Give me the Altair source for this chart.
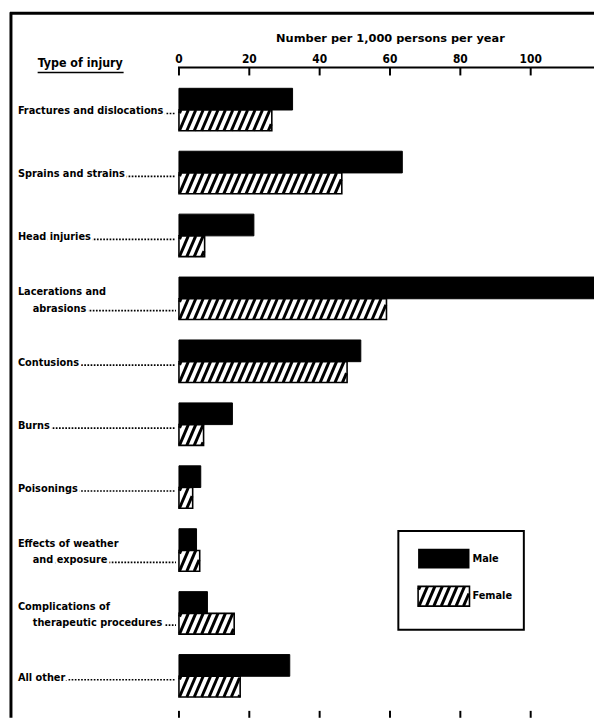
import altair as alt
import pandas as pd
import numpy as np

# ---------------- data ----------------
label_line1 = ["Fractures and dislocations", "Sprains and strains", "Head injuries",
               "Lacerations and", "Contusions", "Burns", "Poisonings",
               "Effects of weather", "Complications of", "All other"]
label_line2 = ["", "", "", "abrasions", "", "", "", "and exposure",
               "therapeutic procedures", ""]
male = [32.3, 63.5, 21.3, 118.0, 51.7, 15.2, 6.2, 5.0, 8.1, 31.5]
female = [26.4, 46.3, 7.3, 59.0, 47.8, 7.0, 3.9, 5.9, 15.7, 17.4]
tick_values = [0, 20, 40, 60, 80, 100]
axis_title = "Number per 1,000 persons per year"
row_title = "Type of injury"
legend_labels = ["Male", "Female"]

# ---------------- layout ----------------
W, H = 420, 650
XMAX = 118.0
YDOM = [-0.675, 9.534]
PY = H / (YDOM[1] - YDOM[0])
SX = W / XMAX
FONT = "DejaVu Sans Condensed"
FONT_WIDE = "DejaVu Sans"
MH, FH = 0.345, 0.33

def invx(p):
    return p / SX

def invy(p):
    return YDOM[0] + p / PY

xs = alt.Scale(domain=[0, XMAX], nice=False, zero=False)
ys = alt.Scale(domain=YDOM, nice=False, zero=False, reverse=True)

def X(f):
    return alt.X(f, type="quantitative", scale=xs, axis=None)

def Y(f):
    return alt.Y(f, type="quantitative", scale=ys, axis=None)

n = len(male)
bars_m = pd.DataFrame({"x0": 0.0, "x1": male,
                       "y0": [k - MH for k in range(n)], "y1": list(range(n))})
bars_f = pd.DataFrame({"x0": 0.0, "x1": female,
                       "y0": list(range(n)), "y1": [k + FH for k in range(n)]})


def hatch(x0p, x1p, ytp, ybp, spacing=7.5, slope=0.43):
    h = ybp - ytp
    d = h * slope
    segs = []
    xsrt = x0p - d + 2.0
    while xsrt < x1p:
        tmin = max(0.0, (x0p + 0.6 - xsrt) / d)
        tmax = min(1.0, (x1p - 0.6 - xsrt) / d)
        if tmin < tmax:
            segs.append((xsrt + d * tmin, ybp - h * tmin, xsrt + d * tmax, ybp - h * tmax))
        xsrt += spacing
    return segs

# legend geometry (pixels inside the plot area)
LBX0, LBX1, LBY0, LBY1 = 222, 349, 469, 569
SWX0, SWX1 = 242, 294
SWM = (487, 507)
SWF = (525, 545)

rows = []
for k, v in enumerate(female):
    ytp = (k - YDOM[0]) * PY
    ybp = (k + FH - YDOM[0]) * PY
    for (a, b, c, e) in hatch(0.0, v * SX, ytp, ybp):
        rows.append({"hx": invx(a), "hy": invy(b), "hx2": invx(c), "hy2": invy(e)})
for (a, b, c, e) in hatch(SWX0, SWX1, SWF[0], SWF[1]):
    rows.append({"hx": invx(a), "hy": invy(b), "hx2": invx(c), "hy2": invy(e)})
hatch_df = pd.DataFrame(rows)

# ---------------- layers ----------------
male_layer = alt.Chart(bars_m).mark_rect(fill="black", stroke="black", strokeWidth=1).encode(
    x=X("x0"), x2="x1", y=Y("y0"), y2="y1")
female_fill = alt.Chart(bars_f).mark_rect(fill="white").encode(
    x=X("x0"), x2="x1", y=Y("y0"), y2="y1")
hatch_layer = alt.Chart(hatch_df).mark_rule(color="black", strokeWidth=3, strokeCap="butt").encode(
    x=X("hx"), x2="hx2", y=Y("hy"), y2="hy2")
female_outline = alt.Chart(bars_f).mark_rect(fill=None, stroke="black", strokeWidth=1.6).encode(
    x=X("x0"), x2="x1", y=Y("y0"), y2="y1")

# top axis: line, ticks, labels, title
tick_df = pd.DataFrame({"t": tick_values, "lab": [str(v) for v in tick_values]})
top_ticks = alt.Chart(tick_df).mark_rule(color="black", strokeWidth=2).encode(
    x=X("t"), y=alt.value(0), y2=alt.value(8))
tick_labels = alt.Chart(tick_df).mark_text(
    font=FONT, fontSize=12, fontWeight="bold", align="center", baseline="middle",
    color="black").encode(x=X("t"), y=alt.value(-9), text="lab:N")
bottom_ticks = alt.Chart(tick_df).mark_rule(color="black", strokeWidth=2).encode(
    x=X("t"), y=alt.value(H + 1), y2=alt.value(H + 8))
one = pd.DataFrame({"a": [0]})
axis_line = alt.Chart(one).mark_rule(color="black", strokeWidth=2).encode(
    x=alt.value(-1), x2=alt.value(W + 2), y=alt.value(0))
atitle_df = pd.DataFrame({"t": [axis_title]})
axis_title_txt = alt.Chart(atitle_df).mark_text(
    font=FONT_WIDE, fontSize=11.5, fontWeight="bold", align="center", baseline="middle",
    color="black").encode(x=alt.value(214), y=alt.value(-29), text="t:N")

# frame
frame_top = alt.Chart(one).mark_rule(color="black", strokeWidth=3).encode(
    x=alt.value(-171), x2=alt.value(W + 2), y=alt.value(-55))
frame_left = alt.Chart(one).mark_rule(color="black", strokeWidth=3).encode(
    x=alt.value(-170), y=alt.value(-56), y2=alt.value(H + 8))

# row title
title_df = pd.DataFrame({"t": [row_title]})
row_title_txt = alt.Chart(title_df).mark_text(
    font=FONT, fontSize=12.5, fontWeight="bold", align="left", baseline="alphabetic",
    color="black").encode(x=alt.value(-143), y=alt.value(-1), text="t:N")
row_title_ul = alt.Chart(one).mark_rule(color="black", strokeWidth=1.6).encode(
    x=alt.value(-143), x2=alt.value(-56), y=alt.value(5))

# category labels
l1 = []
l2 = []
for k in range(n):
    if label_line2[k]:
        l1.append({"t": label_line1[k], "yb": k + (-3.5) / PY, "dots": False})
        l2.append({"t": label_line2[k], "yb": k + 13.0 / PY})
    else:
        l1.append({"t": label_line1[k], "yb": k + 4.5 / PY, "dots": True})
l1 = pd.DataFrame(l1)
l2 = pd.DataFrame(l2)
l1d = l1[l1["dots"]]

dot_style = dict(color="black", strokeWidth=1.7, strokeDash=[1.7, 1.5], yOffset=-1)
dots1 = alt.Chart(l1d).mark_rule(**dot_style).encode(
    x=alt.value(-163), x2=alt.value(-3), y=Y("yb"))
dots2 = alt.Chart(l2).mark_rule(**dot_style).encode(
    x=alt.value(-148), x2=alt.value(-3), y=Y("yb"))

txt_style = dict(font=FONT, fontSize=11, fontWeight="bold", align="left", baseline="alphabetic")
halo1 = alt.Chart(l1).mark_text(fill="white", stroke="white", strokeWidth=5, **txt_style).encode(
    x=alt.value(-163), y=Y("yb"), text="t:N")
halo2 = alt.Chart(l2).mark_text(fill="white", stroke="white", strokeWidth=5, **txt_style).encode(
    x=alt.value(-148), y=Y("yb"), text="t:N")
text1 = alt.Chart(l1).mark_text(color="black", **txt_style).encode(
    x=alt.value(-163), y=Y("yb"), text="t:N")
text2 = alt.Chart(l2).mark_text(color="black", **txt_style).encode(
    x=alt.value(-148), y=Y("yb"), text="t:N")

# legend
box_df = pd.DataFrame({"x0": [invx(LBX0)], "x1": [invx(LBX1)], "y0": [invy(LBY0)], "y1": [invy(LBY1)]})
leg_box = alt.Chart(box_df).mark_rect(fill="white", stroke="black", strokeWidth=2).encode(
    x=X("x0"), x2="x1", y=Y("y0"), y2="y1")
sw_m_df = pd.DataFrame({"x0": [invx(SWX0)], "x1": [invx(SWX1)], "y0": [invy(SWM[0])], "y1": [invy(SWM[1])]})
sw_f_df = pd.DataFrame({"x0": [invx(SWX0)], "x1": [invx(SWX1)], "y0": [invy(SWF[0])], "y1": [invy(SWF[1])]})
sw_m = alt.Chart(sw_m_df).mark_rect(fill="black").encode(
    x=X("x0"), x2="x1", y=Y("y0"), y2="y1")
sw_f_fill = alt.Chart(sw_f_df).mark_rect(fill="white").encode(
    x=X("x0"), x2="x1", y=Y("y0"), y2="y1")
sw_f_out = alt.Chart(sw_f_df).mark_rect(fill=None, stroke="black", strokeWidth=1.6).encode(
    x=X("x0"), x2="x1", y=Y("y0"), y2="y1")
leg_txt_df = pd.DataFrame({"t": legend_labels,
                           "yy": [invy((SWM[0] + SWM[1]) / 2), invy((SWF[0] + SWF[1]) / 2)]})
leg_txt = alt.Chart(leg_txt_df).mark_text(
    font=FONT, fontSize=11, fontWeight="bold", align="left", baseline="middle",
    color="black").encode(x=alt.value(SWX1 + 3), y=Y("yy"), text="t:N")

chart = alt.layer(
    frame_top, frame_left, axis_line, top_ticks, tick_labels, axis_title_txt, bottom_ticks,
    row_title_txt, row_title_ul,
    dots1, dots2, halo1, halo2, text1, text2,
    leg_box, sw_m, sw_f_fill,
    male_layer, female_fill, hatch_layer, female_outline, sw_f_out, leg_txt,
).properties(
    width=W, height=H,
    autosize=alt.AutoSizeParams(type="none"),
    padding={"left": 173, "top": 56, "right": 0, "bottom": 6},
    background="white",
).configure_view(stroke=None)

chart.save("out.html", embed_options={"renderer": "svg", "actions": False})
